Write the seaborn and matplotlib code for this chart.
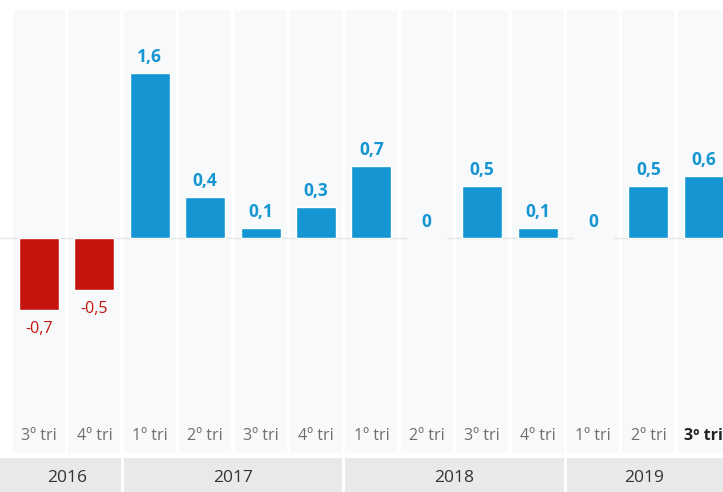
import matplotlib
matplotlib.use("Agg")
import matplotlib.pyplot as plt
import seaborn as sns
import pandas as pd

quarters = ["3º tri", "4º tri", "1º tri", "2º tri", "3º tri", "4º tri",
            "1º tri", "2º tri", "3º tri", "4º tri", "1º tri", "2º tri", "3º tri"]
years = ["2016", "2016", "2017", "2017", "2017", "2017",
         "2018", "2018", "2018", "2018", "2019", "2019", "2019"]
values = [-0.7, -0.5, 1.6, 0.4, 0.1, 0.3, 0.7, 0.0, 0.5, 0.1, 0.0, 0.5, 0.6]
year_groups = ["2016", "2017", "2018", "2019"]

BLUE = "#1596d3"
RED = "#c4140d"

sns.set_theme(style="white")
plt.rcParams["font.family"] = ["Open Sans", "DejaVu Sans"]

df = pd.DataFrame({
    "period": [f"{q} {y}" for q, y in zip(quarters, years)],
    "value": values,
})
df["sign"] = ["neg" if v < 0 else "pos" for v in values]

W, H = 723, 492
fig = plt.figure(figsize=(W / 100, H / 100), dpi=100)
fig.patch.set_facecolor("white")

spacing = 55.4
x0 = 39
xmin = -x0 / spacing
xmax = (W - x0) / spacing

top_px, bot_px, zero_px, scale = 10, 453, 238, 103.3
ymax = (zero_px - top_px) / scale
ymin = -(bot_px - zero_px) / scale

ax = fig.add_axes([0, (H - bot_px) / H, 1, (bot_px - top_px) / H])
ax.set_facecolor("white")

n = len(values)
for i in range(n):
    ax.axvspan(i - 0.47, i + 0.47, color="#f8f9fa", zorder=0, lw=0)
ax.axhline(0, color="#e4e6ea", lw=1, zorder=1)

sns.barplot(data=df, x="period", y="value", hue="sign",
            palette={"pos": BLUE, "neg": RED}, width=0.72,
            legend=False, ax=ax, zorder=2, saturation=1)

ax.set_xlim(xmin, xmax)
ax.set_ylim(ymin, ymax)
ax.set_xlabel("")
ax.set_ylabel("")
ax.set_xticks([])
ax.set_yticks([])
for s in ax.spines.values():
    s.set_visible(False)

for i, v in enumerate(values):
    lab = ("%g" % v).replace(".", ",")
    if v < 0:
        ax.annotate(lab, (i, v), xytext=(0, -8), textcoords="offset points",
                    ha="center", va="top", color=RED, fontsize=11.5)
    else:
        ax.annotate(lab, (i, v), xytext=(0, 5), textcoords="offset points",
                    ha="center", va="bottom", color=BLUE, fontsize=12.5,
                    fontweight="bold")

label_y = -(436 - zero_px) / scale
for i, q in enumerate(quarters):
    last = i == n - 1
    ax.text(i, label_y, q, ha="center", va="center", fontsize=11.5,
            color="#222222" if last else "#6e6e6e",
            fontweight="bold" if last else "normal")

# year band
bax = fig.add_axes([0, 0, 1, (H - 458) / H])
bax.set_xlim(xmin, xmax)
bax.set_ylim(0, 1)
bax.axis("off")
gap = 0.027
idx = 0
for yg in year_groups:
    cnt = years.count(yg)
    start = idx - 0.5
    end = idx + cnt - 0.5
    lo = xmin if idx == 0 else start + gap
    hi = xmax if idx + cnt == n else end - gap
    bax.axvspan(lo, hi, color="#e9e9e9", lw=0)
    cx = (max(start, xmin) + min(end, xmax)) / 2
    bax.text(cx, 0.4, yg, ha="center", va="center", fontsize=12.5,
             color="#333333")
    idx += cnt

fig.savefig("out.png", dpi=100, facecolor="white")
